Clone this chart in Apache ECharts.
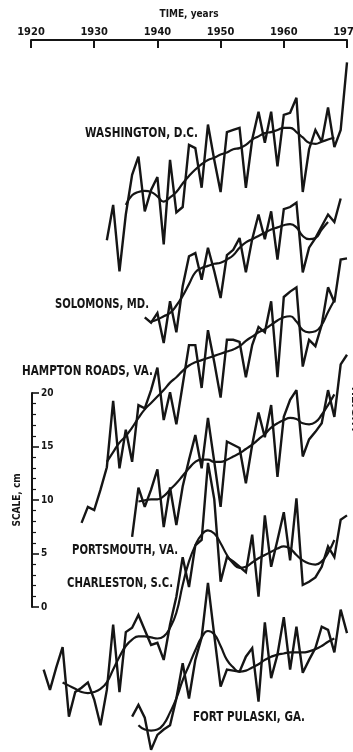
<!DOCTYPE html>
<html><head><meta charset="utf-8">
<style>html,body{margin:0;padding:0;background:#fff}#c{width:353px;height:752px}</style>
<script src="https://cdn.jsdelivr.net/npm/echarts@6/dist/echarts.min.js"></script>
</head><body><div id="c"></div>
<script>
// ---- axis ticks ----
const yearTicks = [1920, 1930, 1940, 1950, 1960, 1970];
const scaleTicks = [0, 5, 10, 15, 20];   // cm

// ---- data (heights in cm on the figure's common scale) ----
const washingtonStart = 1932;
const washingtonAnnual = [47.8, 51.1, 44.9, 50.2, 53.9, 55.6, 50.5, 52.5, 53.7, 47.4, 55.3, 50.4, 50.9, 56.7, 56.4, 52.7, 58.6, 55.3, 52.3, 57.9, 58.1, 58.3, 52.7, 57.2, 59.8, 56.9, 59.8, 54.7, 59.5, 59.7, 61.1, 52.3, 56.3, 58.1, 57.0, 60.2, 56.5, 58.1, 64.4];
const washingtonSmoothStart = 1935;
const washingtonSmooth = [51.1, 52.0, 52.3, 52.4, 52.3, 51.9, 51.4, 51.8, 52.3, 53.1, 53.8, 54.4, 54.9, 55.3, 55.5, 55.8, 56.0, 56.3, 56.4, 56.7, 57.2, 57.5, 57.8, 57.9, 58.1, 58.3, 58.3, 57.9, 57.4, 56.9, 56.8, 57.0, 57.2, 57.4];

const solomonsStart = 1938;
const solomonsAnnual = [40.6, 40.1, 41.0, 38.2, 42.1, 39.2, 43.5, 46.3, 46.6, 44.1, 47.1, 44.9, 42.4, 46.4, 46.9, 48.0, 44.8, 47.9, 50.2, 47.9, 50.5, 46.0, 50.7, 50.9, 51.3, 44.8, 47.1, 48.0, 49.1, 50.2, 49.5, 51.7];
const solomonsSmoothStart = 1939;
const solomonsSmooth = [40.2, 40.4, 40.7, 41.0, 41.7, 42.6, 43.7, 44.8, 45.2, 45.4, 45.6, 45.7, 46.0, 46.4, 47.1, 47.6, 47.9, 48.2, 48.5, 48.8, 49.0, 49.2, 49.3, 49.0, 48.2, 47.9, 48.0, 48.8, 49.5];

const hamptonStart = 1928;
const hamptonAnnual = [21.4, 22.9, 22.6, 24.5, 26.6, 32.8, 26.5, 30.1, 27.1, 32.4, 32.1, 33.8, 35.9, 31.0, 33.6, 30.6, 34.3, 38.0, 38.0, 34.0, 39.4, 36.4, 33.1, 38.5, 38.5, 38.3, 35.0, 38.0, 39.7, 39.2, 42.1, 35.0, 42.5, 43.0, 43.4, 36.0, 38.5, 37.9, 39.9, 43.4, 42.0, 46.0, 46.1];
const hamptonSmoothStart = 1932;
const hamptonSmooth = [27.1, 28.0, 28.9, 29.5, 30.3, 31.2, 32.0, 32.6, 33.2, 33.8, 34.5, 35.0, 35.6, 36.1, 36.4, 36.6, 36.8, 37.0, 37.2, 37.4, 37.6, 37.9, 38.4, 38.8, 39.2, 39.5, 39.9, 40.3, 40.6, 40.7, 40.2, 39.4, 39.2, 39.3, 39.9, 41.1, 42.2];

const portsmouthStart = 1936;
const portsmouthAnnual = [20.1, 24.7, 22.9, 24.5, 26.4, 21.0, 24.7, 21.2, 24.8, 27.3, 29.6, 26.5, 31.2, 27.1, 22.9, 29.0, 28.7, 28.4, 25.1, 28.7, 31.7, 29.4, 32.4, 25.7, 31.3, 32.9, 33.8, 27.6, 29.2, 29.9, 30.7, 33.8, 31.3, 36.2, 37.1];
const portsmouthSmoothStart = 1937;
const portsmouthSmooth = [23.4, 23.5, 23.6, 23.6, 23.9, 24.5, 25.1, 25.8, 26.5, 27.1, 27.3, 27.3, 27.1, 27.1, 27.3, 27.6, 27.9, 28.3, 28.7, 29.2, 29.7, 30.3, 30.7, 31.0, 31.2, 31.1, 30.7, 30.6, 30.8, 31.5, 32.4, 33.4];

const charlestonStart = 1922;
const charlestonAnnual = [7.7, 5.8, 7.9, 9.8, 3.3, 5.6, 6.0, 6.5, 4.9, 2.5, 5.8, 11.9, 5.6, 11.2, 11.6, 12.8, 11.4, 10.0, 10.2, 8.6, 11.9, 14.5, 18.2, 15.4, 19.3, 19.8, 27.0, 23.6, 15.9, 18.2, 17.8, 17.3, 16.8, 20.3, 14.5, 22.1, 17.3, 19.8, 22.4, 17.9, 23.7, 15.6, 15.9, 16.3, 17.3, 19.2, 18.2, 21.7, 22.1];
const charlestonSmoothStart = 1925;
const charlestonSmooth = [6.5, 6.2, 5.9, 5.6, 5.5, 5.6, 5.9, 6.5, 7.7, 8.9, 9.9, 10.5, 10.8, 10.8, 10.7, 10.6, 10.8, 11.6, 13.0, 15.6, 17.8, 19.3, 20.3, 20.7, 20.4, 19.5, 18.4, 17.6, 17.2, 17.3, 17.7, 18.1, 18.4, 18.7, 19.0, 19.2, 19.0, 18.4, 17.9, 17.6, 17.5, 17.8, 18.6, 19.8];

const pulaskiStart = 1936;
const pulaskiAnnual = [3.3, 4.4, 3.2, 0.2, 1.6, 2.1, 2.5, 5.0, 8.3, 5.0, 8.6, 10.7, 15.8, 10.9, 6.1, 7.7, 7.6, 7.5, 8.9, 9.7, 4.7, 12.1, 6.9, 9.1, 12.6, 7.7, 11.7, 7.4, 8.6, 9.7, 11.7, 11.4, 9.3, 13.3, 11.1];
const pulaskiSmoothStart = 1937;
const pulaskiSmooth = [2.5, 2.1, 2.0, 2.1, 2.6, 3.7, 5.0, 6.7, 8.1, 9.5, 10.7, 11.3, 11.0, 9.9, 8.6, 7.9, 7.5, 7.6, 7.9, 8.2, 8.6, 8.9, 9.1, 9.2, 9.3, 9.3, 9.3, 9.4, 9.6, 9.9, 10.3, 10.6];

const stationNames = ['WASHINGTON, D.C.', 'SOLOMONS, MD.', 'HAMPTON ROADS, VA.', 'PORTSMOUTH, VA.', 'CHARLESTON, S.C.', 'FORT PULASKI, GA.'];

// ---- layout / style (not data) ----
const ink = '#151515';
const cond = "'Liberation Sans Narrow','DejaVu Sans Condensed','Roboto Condensed','Liberation Sans',sans-serif";
const labelFont = "bold 14px 'DejaVu Sans'";
const labelBoxes = [ // left x, centre y, width in px
  [85, 133, 113], [55, 304, 94], [22, 371, 131], [72, 550, 106], [67, 583, 106], [193, 717, 112]
];

const stations = [
  [washingtonStart, washingtonAnnual, washingtonSmoothStart, washingtonSmooth],
  [solomonsStart, solomonsAnnual, solomonsSmoothStart, solomonsSmooth],
  [hamptonStart, hamptonAnnual, hamptonSmoothStart, hamptonSmooth],
  [portsmouthStart, portsmouthAnnual, portsmouthSmoothStart, portsmouthSmooth],
  [charlestonStart, charlestonAnnual, charlestonSmoothStart, charlestonSmooth],
  [pulaskiStart, pulaskiAnnual, pulaskiSmoothStart, pulaskiSmooth]
];

const toPairs = (start, vals) => vals.map((v, i) => [start + i, v]);

const series = [];
stations.forEach((s, k) => {
  series.push({
    name: stationNames[k] + ' annual', type: 'line', xAxisIndex: 0, yAxisIndex: 0,
    data: toPairs(s[0], s[1]), symbol: 'none', clip: false, silent: true,
    lineStyle: { color: ink, width: 2.4, join: 'miter', miterLimit: 3 }, z: 3
  });
  series.push({
    name: stationNames[k] + ' smoothed', type: 'line', xAxisIndex: 0, yAxisIndex: 0,
    data: toPairs(s[2], s[3]), symbol: 'none', smooth: 0.5, clip: false, silent: true,
    lineStyle: { color: ink, width: 2.2 }, z: 3
  });
});

// measure label widths so the condensed lettering matches
const ctx = document.createElement('canvas').getContext('2d');
ctx.font = labelFont;
const graphics = stationNames.map((t, i) => {
  const b = labelBoxes[i];
  const w = ctx.measureText(t).width;
  return {
    type: 'text', x: b[0], y: b[1], scaleX: b[2] / w, silent: true,
    style: { text: t, font: labelFont, fill: ink, align: 'left', verticalAlign: 'middle',
             textAlign: 'left', textVerticalAlign: 'middle' }
  };
});
graphics.push({
  type: 'text', x: 355, y: 410, rotation: -Math.PI / 2, silent: true,
  style: { text: 'HEIGHT', font: "bold 11px 'DejaVu Sans'", fill: ink, align: 'center', verticalAlign: 'middle',
           textAlign: 'center', textVerticalAlign: 'middle' }
});

const chart = echarts.init(document.getElementById('c'), null, { renderer: 'canvas' });
chart.setOption({
  animation: false,
  backgroundColor: '#ffffff',
  grid: [
    { left: 31, right: 6, top: 40, bottom: 0, containLabel: false, outerBoundsMode: 'none' },
    { left: 32, top: 393, width: 8, height: 214, containLabel: false, outerBoundsMode: 'none' }
  ],
  xAxis: [
    {
      gridIndex: 0, type: 'value', position: 'top',
      min: yearTicks[0], max: yearTicks[yearTicks.length - 1], interval: yearTicks[1] - yearTicks[0],
      axisLine: { show: true, onZero: false, lineStyle: { color: ink, width: 2 } },
      axisTick: { show: true, inside: true, length: 8, lineStyle: { color: ink, width: 2 } },
      axisLabel: { show: true, margin: 2, color: ink, fontSize: 11, fontWeight: 'bold', fontFamily: cond,
                   showMinLabel: true, showMaxLabel: true, formatter: v => String(v) },
      splitLine: { show: false },
      name: 'TIME, years', nameLocation: 'middle', nameGap: 21,
      nameTextStyle: { color: ink, fontSize: 10, fontWeight: 'bold', fontFamily: cond }
    },
    { gridIndex: 1, type: 'value', min: 0, max: 1, show: false }
  ],
  yAxis: [
    { gridIndex: 0, type: 'value', min: 0, max: 66.5, show: false },
    {
      gridIndex: 1, type: 'value', position: 'left',
      min: scaleTicks[0], max: scaleTicks[scaleTicks.length - 1], interval: scaleTicks[1] - scaleTicks[0],
      axisLine: { show: true, onZero: false, lineStyle: { color: ink, width: 2 } },
      axisTick: { show: true, inside: true, length: 7, lineStyle: { color: ink, width: 1.6 } },
      minorTick: { show: true, splitNumber: 5, length: 4, lineStyle: { color: ink, width: 1.2 } },
      axisLabel: { show: true, inside: true, margin: 9, color: ink, fontSize: 10, fontWeight: 'bold', fontFamily: cond,
                   showMinLabel: true, showMaxLabel: true },
      splitLine: { show: false },
      name: 'SCALE, cm', nameLocation: 'middle', nameRotate: 90, nameGap: 10,
      nameTextStyle: { color: ink, fontSize: 10, fontWeight: 'bold', fontFamily: cond }
    }
  ],
  graphic: graphics,
  series: series
});
</script>
</body></html>
